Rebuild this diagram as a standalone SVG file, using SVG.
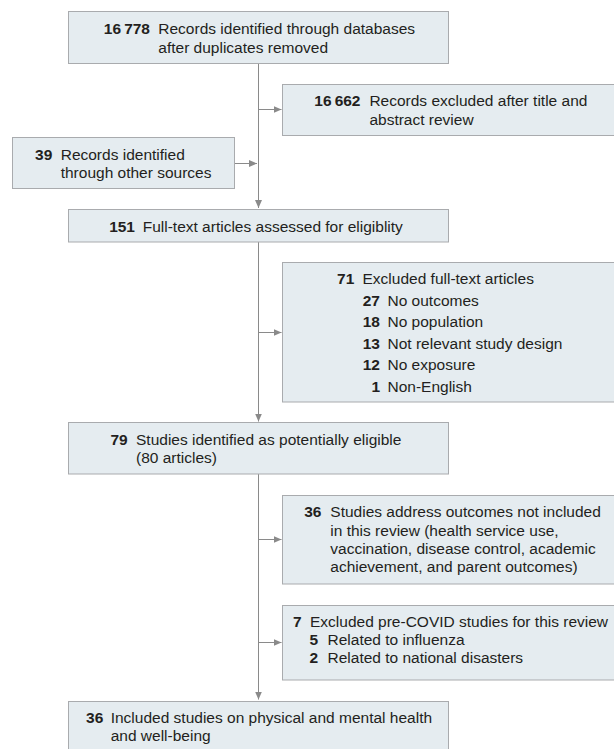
<svg xmlns="http://www.w3.org/2000/svg" width="614" height="749" viewBox="0 0 614 749">
<defs>
<style>
.box{fill:#e5ecf0;stroke:#a9abae;stroke-width:1}
.t{font-family:"Liberation Sans",Arial,sans-serif;font-size:15.5px;fill:#231f20}
.n{font-weight:bold;text-anchor:end}
.c{stroke:#8a8a8a;stroke-width:1;fill:none}
</style>
<marker id="ah" markerUnits="userSpaceOnUse" markerWidth="9" markerHeight="8" refX="8" refY="3.5" orient="auto">
<path d="M0,0 L8,3.5 L0,7 z" fill="#8a8a8a"/>
</marker>
</defs>
<rect width="614" height="749" fill="#ffffff"/>
<g id="connectors">
<line class="c" x1="258.5" y1="64" x2="258.5" y2="208" marker-end="url(#ah)"/>
<line class="c" x1="258.5" y1="109.5" x2="281.5" y2="109.5" marker-end="url(#ah)"/>
<line class="c" x1="235" y1="163.5" x2="257" y2="163.5" marker-end="url(#ah)"/>
<line class="c" x1="258.5" y1="242" x2="258.5" y2="421.5" marker-end="url(#ah)"/>
<line class="c" x1="258.5" y1="332.5" x2="281.5" y2="332.5" marker-end="url(#ah)"/>
<line class="c" x1="258.5" y1="474" x2="258.5" y2="699.5" marker-end="url(#ah)"/>
<line class="c" x1="258.5" y1="539.5" x2="281.5" y2="539.5" marker-end="url(#ah)"/>
<line class="c" x1="258.5" y1="642.5" x2="281.5" y2="642.5" marker-end="url(#ah)"/>
</g>
<g id="n1">
<rect class="box" x="68.5" y="11.5" width="380" height="52"/>
<text class="t n" x="150" y="34">16&#8201;778</text>
<text class="t" x="158.3" y="34">Records identified through databases</text>
<text class="t" x="158.3" y="52.7">after duplicates removed</text>
</g>
<g id="n2">
<rect class="box" x="282.5" y="84.5" width="340" height="51"/>
<text class="t n" x="360.5" y="106">16&#8201;662</text>
<text class="t" x="369.4" y="106">Records excluded after title and</text>
<text class="t" x="369.4" y="125">abstract review</text>
</g>
<g id="n3">
<rect class="box" x="12.5" y="137.5" width="222" height="51"/>
<text class="t n" x="52.3" y="160">39</text>
<text class="t" x="60.7" y="160">Records identified</text>
<text class="t" x="60.7" y="177.7">through other sources</text>
</g>
<g id="n4">
<rect class="box" x="68.5" y="209.5" width="380" height="32.5"/>
<text class="t n" x="135" y="232.3">151</text>
<text class="t" x="142.7" y="232.3">Full-text articles assessed for eligiblity</text>
</g>
<g id="n5">
<rect class="box" x="282.5" y="262.5" width="340" height="139.5"/>
<text class="t n" x="354.3" y="284">71</text>
<text class="t" x="362.5" y="284">Excluded full-text articles</text>
<text class="t n" x="380" y="305.5">27</text>
<text class="t" x="387.5" y="305.5">No outcomes</text>
<text class="t n" x="380" y="327">18</text>
<text class="t" x="387.5" y="327">No population</text>
<text class="t n" x="380" y="348.5">13</text>
<text class="t" x="387.5" y="348.5">Not relevant study design</text>
<text class="t n" x="380" y="370">12</text>
<text class="t" x="387.5" y="370">No exposure</text>
<text class="t n" x="380" y="391.5">1</text>
<text class="t" x="387.5" y="391.5">Non-English</text>
</g>
<g id="n6">
<rect class="box" x="68.5" y="422.5" width="380" height="51.5"/>
<text class="t n" x="127.7" y="445">79</text>
<text class="t" x="136" y="445">Studies identified as potentially eligible</text>
<text class="t" x="136" y="463.3">(80 articles)</text>
</g>
<g id="n7">
<rect class="box" x="282.5" y="495.5" width="340" height="88.5"/>
<text class="t n" x="321.5" y="517.3">36</text>
<text class="t" x="330.3" y="517.3">Studies address outcomes not included</text>
<text class="t" x="330.3" y="535.5">in this review (health service use,</text>
<text class="t" x="330.3" y="553.7">vaccination, disease control, academic</text>
<text class="t" x="330.3" y="571.9">achievement, and parent outcomes)</text>
</g>
<g id="n8">
<rect class="box" x="282.5" y="605.5" width="340" height="74.5"/>
<text class="t n" x="301.7" y="627.3">7</text>
<text class="t" x="310" y="627.3">Excluded pre-COVID studies for this review</text>
<text class="t n" x="318" y="645.3">5</text>
<text class="t" x="327.5" y="645.3">Related to influenza</text>
<text class="t n" x="318" y="663.3">2</text>
<text class="t" x="327.5" y="663.3">Related to national disasters</text>
</g>
<g id="n9">
<rect class="box" x="68.5" y="701.5" width="380" height="60"/>
<text class="t n" x="103.3" y="722.7">36</text>
<text class="t" x="110.7" y="722.7">Included studies on physical and mental health</text>
<text class="t" x="110.7" y="740.7">and well-being</text>
</g>
</svg>
